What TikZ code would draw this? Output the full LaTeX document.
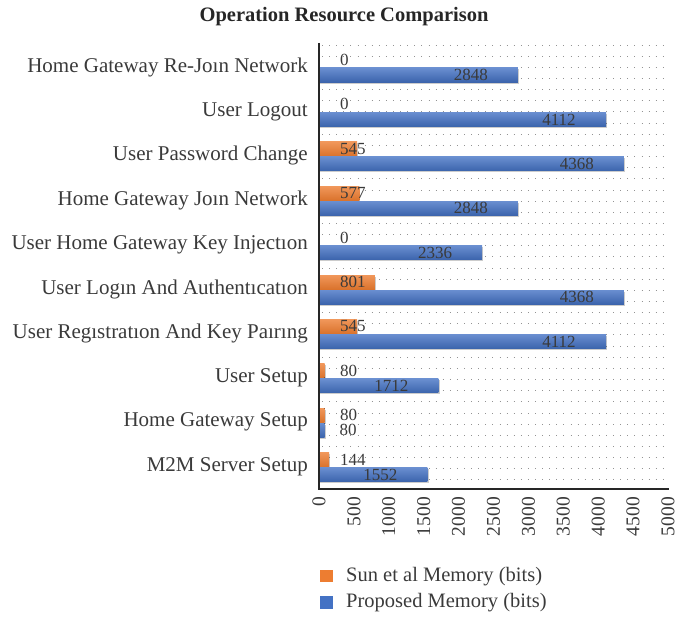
\documentclass[tikz,border=0pt]{standalone}
\usepackage{fontspec}
\setmainfont{Liberation Serif}
\usetikzlibrary{shadows}
\definecolor{sunorange}{HTML}{ED7D31}
\definecolor{propblue}{HTML}{4472C4}
\definecolor{labelgray}{HTML}{3A3A3A}
\definecolor{axisblack}{HTML}{262626}
\begin{document}
\begin{tikzpicture}[x=1pt,y=-1pt,
  catlabel/.style={anchor=east,text=labelgray,inner sep=0pt,font=\fontsize{21}{24}\selectfont},
  vallabel/.style={text=labelgray,inner sep=0pt,font=\fontsize{17}{20}\selectfont},
  ticklabel/.style={anchor=east,rotate=90,text=labelgray,inner sep=0pt,font=\fontsize{19.5}{22}\selectfont},
  legtext/.style={anchor=west,text=labelgray,inner sep=0pt,font=\fontsize{20.5}{24}\selectfont},
  griddots/.style={gray!85,line width=0.9pt,dash pattern=on 0.9pt off 6.2pt},
  barshadow/.style={drop shadow={shadow xshift=1.2pt,shadow yshift=-1.5pt,opacity=0.2,fill=black}},
  sunbar/.style={barshadow,top color=sunorange!80!white,bottom color=sunorange!92!black},
  propbar/.style={barshadow,top color=propblue!80!white,bottom color=propblue!88!black}]
\useasboundingbox (0,0) rectangle (677,618);
\node[font=\bfseries\fontsize{20.5}{24}\selectfont,text=axisblack] (title) at (344,17) {Operation Resource Comparison};
% dotted background of the plot area
\foreach \r in {0,...,39}
  \draw[griddots] (322,{45+11.15*\r}) -- (668,{45+11.15*\r});
% bars, top to bottom: category / Sun et al / proposed
\foreach \k/\name/\a/\b in {
  1/Home Gateway Re-Joın Network/0/2848,
  2/User Logout/0/4112,
  3/User Password Change/545/4368,
  4/Home Gateway Joın Network/577/2848,
  5/User Home Gateway Key Injectıon/0/2336,
  6/User Logın And Authentıcatıon/801/4368,
  7/User Regıstratıon And Key Paırıng/545/4112,
  8/User Setup/80/1712,
  9/Home Gateway Setup/80/80,
  10/M2M Server Setup/144/1552}{
  \pgfmathsetmacro{\c}{67+44.4*(\k-1)}
  \pgfmathsetmacro{\ea}{319+0.0698*\a}
  \pgfmathsetmacro{\eb}{319+0.0698*\b}
  \pgfmathsetmacro{\lx}{max(\eb-47,348)}
  \node[catlabel] (cat\k) at (308,\c) {\name};
  \ifnum\a>0 \fill[sunbar] (319,{\c-14}) rectangle (\ea,\c); \fi
  \fill[propbar] (319,{\c+1}) rectangle (\eb,{\c+15});
  \node[vallabel,anchor=west] (sun\k) at (340,{\c-7}) {\a};
  \node[vallabel] (prop\k) at (\lx,{\c+8}) {\b};
}
% axes
\coordinate (top) at (319,43);
\coordinate (origin) at (319,489);
\coordinate (right) at (669,489);
\draw[axisblack,line width=2.4pt] (top) -- (origin) -- (right);
\foreach \t in {0,500,...,5000}
  \node[ticklabel] (tick\t) at ({319+0.0698*\t},497) {\t};
% legend
\node[fill=sunorange,minimum size=12.5pt,inner sep=0pt] (sunkey) at (326.5,576) {};
\node[legtext] (suntext) at (346,577) {Sun et al Memory (bits)};
\node[fill=propblue,minimum size=12.5pt,inner sep=0pt] (propkey) at (326.5,602.5) {};
\node[legtext] (proptext) at (346,603) {Proposed Memory (bits)};
\end{tikzpicture}
\end{document}
